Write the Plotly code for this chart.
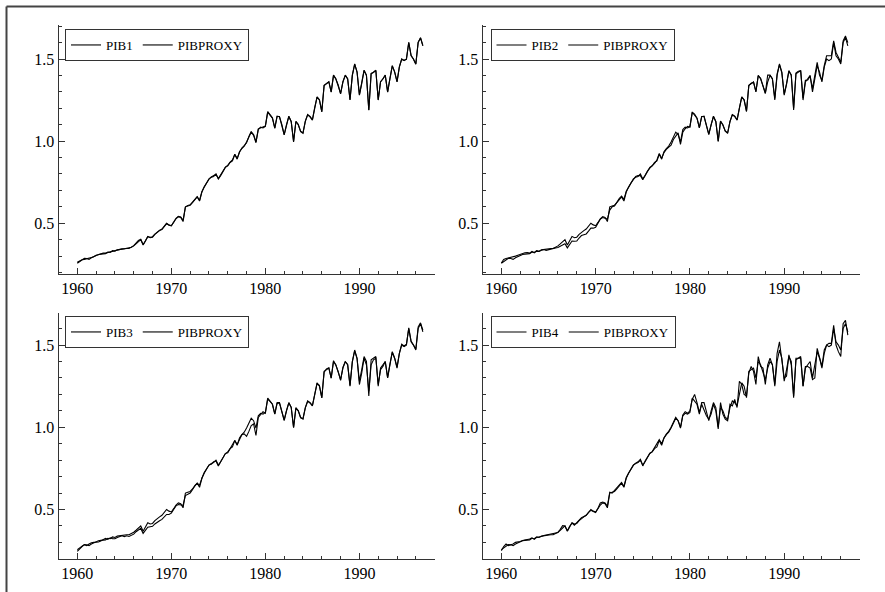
import pandas as pd
import plotly.graph_objects as go

# Quarterly dates 1960Q1 - 1996Q4
quarters = pd.date_range("1960-01-01", periods=148, freq="QS")

PIBPROXY = [
    0.256, 0.265, 0.275, 0.287,  0.285, 0.280, 0.290, 0.298,  0.305, 0.310, 0.312, 0.315,
    0.315, 0.325, 0.322, 0.333,  0.330, 0.338, 0.340, 0.345,  0.345, 0.346, 0.346, 0.352,
    0.362, 0.374, 0.390, 0.400,  0.368, 0.395, 0.420, 0.412,  0.415, 0.432, 0.445, 0.455,
    0.465, 0.480, 0.500, 0.490,  0.485, 0.505, 0.527, 0.540,  0.535, 0.510, 0.600, 0.605,
    0.610, 0.625, 0.645, 0.660,  0.635, 0.690, 0.720, 0.745,  0.770, 0.780, 0.785, 0.800,
    0.770, 0.790, 0.820, 0.840,  0.850, 0.870, 0.880, 0.920,  0.890, 0.935, 0.955, 0.970,
    0.995, 1.030, 1.055, 1.040,  0.995, 1.070, 1.085, 1.080,  1.090, 1.177, 1.160, 1.140,
    1.080, 1.150, 1.150, 1.100,  1.040, 1.100, 1.150, 1.120,  1.000, 1.120, 1.100, 1.060,
    1.050, 1.120, 1.160, 1.150,  1.130, 1.200, 1.270, 1.250,  1.180, 1.340, 1.350, 1.360,
    1.300, 1.400, 1.380, 1.340,  1.290, 1.360, 1.400, 1.380,  1.250, 1.400, 1.470, 1.420,
    1.280, 1.350, 1.430, 1.400,  1.190, 1.410, 1.420, 1.430,  1.250, 1.360, 1.380, 1.400,
    1.300, 1.380, 1.460, 1.420,  1.360, 1.450, 1.500, 1.490,  1.500, 1.600, 1.520, 1.500,
    1.470, 1.600, 1.630, 1.580,
]

PIB1 = [
    0.262, 0.272, 0.278, 0.280,  0.283, 0.285, 0.292, 0.296,  0.305, 0.308, 0.314, 0.318,
    0.318, 0.322, 0.325, 0.330,  0.332, 0.336, 0.342, 0.344,  0.345, 0.347, 0.348, 0.354,
    0.364, 0.378, 0.395, 0.402,  0.370, 0.392, 0.418, 0.414,  0.418, 0.434, 0.448, 0.458,
    0.462, 0.478, 0.498, 0.488,  0.484, 0.508, 0.530, 0.542,  0.538, 0.518, 0.598, 0.608,
    0.612, 0.628, 0.648, 0.662,  0.640, 0.692, 0.722, 0.748,  0.768, 0.782, 0.788, 0.798,
    0.772, 0.792, 0.818, 0.842,  0.852, 0.872, 0.885, 0.918,  0.895, 0.932, 0.958, 0.972,
    0.990, 1.028, 1.058, 1.035,  0.990, 1.075, 1.080, 1.085,  1.092, 1.180, 1.158, 1.142,
    1.078, 1.152, 1.148, 1.102,  1.038, 1.102, 1.152, 1.118,  0.995, 1.118, 1.102, 1.058,
    1.048, 1.122, 1.162, 1.148,  1.128, 1.205, 1.268, 1.252,  1.178, 1.338, 1.352, 1.362,
    1.298, 1.402, 1.378, 1.342,  1.288, 1.362, 1.402, 1.378,  1.252, 1.402, 1.468, 1.422,
    1.282, 1.348, 1.432, 1.402,  1.188, 1.412, 1.418, 1.432,  1.252, 1.362, 1.378, 1.402,
    1.298, 1.382, 1.458, 1.422,  1.362, 1.452, 1.498, 1.492,  1.498, 1.602, 1.522, 1.498,
    1.468, 1.602, 1.628, 1.582,
]

PIB2 = [
    0.258, 0.280, 0.285, 0.288,  0.292, 0.296, 0.300, 0.305,  0.310, 0.318, 0.320, 0.322,
    0.318, 0.328, 0.320, 0.330,  0.328, 0.336, 0.340, 0.335,  0.340, 0.344, 0.346, 0.350,
    0.352, 0.358, 0.366, 0.375,  0.350, 0.372, 0.392, 0.390,  0.392, 0.410, 0.425, 0.430,
    0.435, 0.452, 0.470, 0.470,  0.475, 0.500, 0.525, 0.535,  0.530, 0.525, 0.580, 0.600,
    0.605, 0.628, 0.650, 0.665,  0.645, 0.695, 0.725, 0.745,  0.765, 0.785, 0.790, 0.790,
    0.765, 0.795, 0.818, 0.835,  0.848, 0.865, 0.885, 0.925,  0.895, 0.930, 0.950, 0.960,
    0.975, 1.010, 1.030, 1.050,  0.980, 1.055, 1.075, 1.090,  1.085, 1.175, 1.165, 1.140,
    1.082, 1.148, 1.152, 1.098,  1.042, 1.098, 1.152, 1.118,  0.998, 1.122, 1.098, 1.062,
    1.048, 1.118, 1.162, 1.152,  1.128, 1.202, 1.268, 1.252,  1.182, 1.338, 1.352, 1.358,
    1.302, 1.398, 1.382, 1.338,  1.292, 1.402, 1.402, 1.378,  1.260, 1.410, 1.465, 1.415,
    1.285, 1.345, 1.425, 1.405,  1.200, 1.415, 1.425, 1.428,  1.262, 1.370, 1.372, 1.395,
    1.320, 1.400, 1.480, 1.400,  1.370, 1.460, 1.520, 1.520,  1.520, 1.610, 1.540, 1.510,
    1.480, 1.610, 1.640, 1.600,
]

PIB3 = [
    0.245, 0.262, 0.275, 0.285,  0.280, 0.290, 0.298, 0.300,  0.300, 0.302, 0.308, 0.318,
    0.325, 0.318, 0.328, 0.322,  0.322, 0.330, 0.335, 0.340,  0.335, 0.340, 0.336, 0.345,
    0.350, 0.365, 0.378, 0.385,  0.355, 0.372, 0.392, 0.395,  0.398, 0.412, 0.425, 0.432,
    0.440, 0.455, 0.470, 0.470,  0.478, 0.500, 0.522, 0.530,  0.528, 0.525, 0.585, 0.595,
    0.600, 0.620, 0.645, 0.660,  0.648, 0.690, 0.725, 0.748,  0.770, 0.775, 0.790, 0.795,
    0.765, 0.790, 0.820, 0.840,  0.845, 0.870, 0.890, 0.920,  0.895, 0.930, 0.955, 0.960,
    0.945, 0.975, 1.010, 1.020,  0.950, 1.060, 1.080, 1.095,  1.085, 1.172, 1.158, 1.140,
    1.082, 1.145, 1.148, 1.098,  1.045, 1.102, 1.148, 1.122,  0.998, 1.115, 1.102, 1.058,
    1.052, 1.118, 1.158, 1.148,  1.132, 1.198, 1.265, 1.255,  1.178, 1.335, 1.355, 1.362,
    1.298, 1.405, 1.378, 1.338,  1.285, 1.365, 1.398, 1.382,  1.255, 1.398, 1.465, 1.418,
    1.260, 1.330, 1.420, 1.380,  1.220, 1.380, 1.410, 1.420,  1.260, 1.350, 1.370, 1.400,
    1.302, 1.385, 1.455, 1.420,  1.365, 1.448, 1.505, 1.495,  1.505, 1.605, 1.525, 1.500,
    1.475, 1.610, 1.635, 1.590,
]

PIB4 = [
    0.250, 0.275, 0.290, 0.280,  0.285, 0.290, 0.300, 0.302,  0.305, 0.312, 0.315, 0.320,
    0.320, 0.328, 0.318, 0.330,  0.332, 0.336, 0.342, 0.345,  0.346, 0.348, 0.350, 0.355,
    0.360, 0.380, 0.402, 0.400,  0.370, 0.398, 0.418, 0.405,  0.420, 0.440, 0.450, 0.458,
    0.465, 0.482, 0.495, 0.488,  0.482, 0.508, 0.540, 0.545,  0.540, 0.520, 0.605, 0.600,
    0.615, 0.630, 0.648, 0.665,  0.640, 0.695, 0.722, 0.748,  0.770, 0.782, 0.790, 0.805,
    0.765, 0.795, 0.822, 0.842,  0.852, 0.875, 0.895, 0.925,  0.900, 0.935, 0.958, 0.975,
    1.000, 1.035, 1.060, 1.040,  1.000, 1.075, 1.095, 1.085,  1.100, 1.170, 1.200, 1.150,
    1.090, 1.140, 1.100, 1.070,  1.050, 1.080, 1.140, 1.100,  0.990, 1.150, 1.080, 1.050,
    1.040, 1.140, 1.130, 1.170,  1.120, 1.280, 1.260, 1.200,  1.190, 1.330, 1.370, 1.340,
    1.260, 1.430, 1.370, 1.360,  1.260, 1.380, 1.420, 1.380,  1.260, 1.450, 1.520, 1.420,
    1.300, 1.310, 1.440, 1.380,  1.180, 1.420, 1.420, 1.420,  1.250, 1.370, 1.370, 1.360,
    1.290, 1.300, 1.480, 1.420,  1.370, 1.470, 1.500, 1.510,  1.510, 1.620, 1.500, 1.460,
    1.430, 1.630, 1.650, 1.560,
]

PIB_NAMES = ["PIB1", "PIB2", "PIB3", "PIB4"]
PIB_SERIES = [PIB1, PIB2, PIB3, PIB4]

W, H = 885, 592
FONT = "Liberation Serif"

# panel pixel boxes: (left, right, top, bottom)
boxes = [(58.5, 435, 25, 274), (482.5, 860, 25, 274),
         (58.5, 435, 312.5, 558.5), (482.5, 860, 312.5, 558.5)]
legend_pos = [(65, 29), (490.5, 29), (65, 316), (490.5, 316)]
yranges = [[0.191, 1.707], [0.191, 1.707], [0.202, 1.698], [0.202, 1.698]]

fig = go.Figure()
layout = dict(
    width=W, height=H, autosize=False,
    margin=dict(l=0, r=0, t=0, b=0),
    paper_bgcolor="white", plot_bgcolor="white",
    font=dict(family=FONT, size=15, color="black"),
    showlegend=True,
)

for i in range(4):
    k = "" if i == 0 else str(i + 1)
    lg = "legend" if i == 0 else f"legend{i + 1}"
    fig.add_trace(go.Scatter(x=quarters, y=PIB_SERIES[i], mode="lines", name=PIB_NAMES[i],
                             line=dict(color="black", width=1.1), xaxis="x" + k, yaxis="y" + k,
                             legend=lg))
    fig.add_trace(go.Scatter(x=quarters, y=PIBPROXY, mode="lines", name="PIBPROXY",
                             line=dict(color="black", width=1.1), xaxis="x" + k, yaxis="y" + k,
                             legend=lg))
    l, r, t, b = boxes[i]
    layout["xaxis" + k] = dict(
        domain=[l / W, r / W], anchor="y" + k, type="date",
        range=["1958-01-01", "1998-01-15"],
        tick0="1960-01-01", dtick="M120", tickformat="%Y",
        ticks="inside", ticklen=6, tickcolor="#333", tickwidth=1,
        minor=dict(dtick="M24", tick0="1960-01-01", ticks="inside", ticklen=3,
                   tickcolor="#333", showgrid=False),
        showline=True, linecolor="#333", linewidth=1, mirror=False,
        showgrid=False, zeroline=False,
        tickfont=dict(family=FONT, size=16, color="black"),
    )
    layout["yaxis" + k] = dict(
        domain=[1 - b / H, 1 - t / H], anchor="x" + k,
        range=yranges[i], tick0=0, dtick=0.5, tickformat=".1f",
        ticks="inside", ticklen=6, tickcolor="#333", tickwidth=1,
        minor=dict(dtick=0.1, tick0=0, ticks="inside", ticklen=3,
                   tickcolor="#333", showgrid=False),
        showline=True, linecolor="#333", linewidth=1, mirror=False,
        showgrid=False, zeroline=False,
        tickfont=dict(family=FONT, size=16, color="black"),
    )
    lx, ly = legend_pos[i]
    layout[lg] = dict(
        orientation="h", x=lx / W, y=1 - ly / H, xanchor="left", yanchor="top",
        bgcolor="white", bordercolor="#333", borderwidth=1,
        font=dict(family=FONT, size=13, color="black"),
        itemwidth=30, tracegroupgap=0,
    )

fig.update_layout(**layout)

# outer frame (left and top edges visible)
fig.add_shape(type="line", xref="paper", yref="paper",
              x0=6.5 / W, x1=6.5 / W, y0=0, y1=1 - 6.5 / H,
              line=dict(color="#444", width=2))
fig.add_shape(type="line", xref="paper", yref="paper",
              x0=6.5 / W, x1=1, y0=1 - 6.5 / H, y1=1 - 6.5 / H,
              line=dict(color="#444", width=2))

fig.write_html("out.html",
               config={"displayModeBar": False},
               post_script="document.body.style.margin='0';document.body.style.overflow='hidden';")
